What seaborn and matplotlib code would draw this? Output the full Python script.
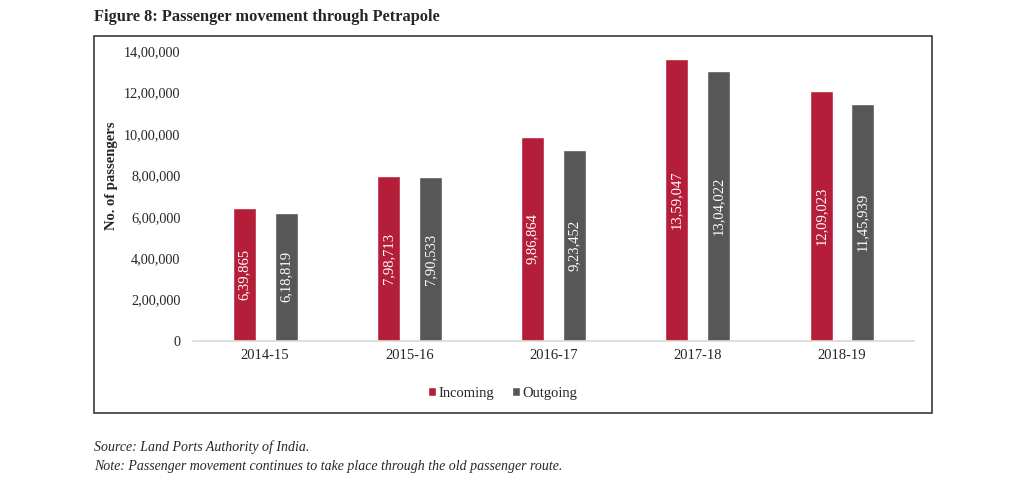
import pandas as pd
import seaborn as sns
import matplotlib.pyplot as plt
from matplotlib.patches import Rectangle

# data
years = ["2014-15", "2015-16", "2016-17", "2017-18", "2018-19"]
incoming = [639865, 798713, 986864, 1359047, 1209023]
outgoing = [618819, 790533, 923452, 1304022, 1145939]
y_ticks = [0, 200000, 400000, 600000, 800000, 1000000, 1200000, 1400000]


def indian_fmt(n):
    s = str(int(n))
    if len(s) <= 3:
        return s
    head, tail = s[:-3], s[-3:]
    parts = []
    while len(head) > 2:
        parts.insert(0, head[-2:])
        head = head[:-2]
    if head:
        parts.insert(0, head)
    return ",".join(parts + [tail])


df = pd.DataFrame({
    "Year": years * 2,
    "Passengers": incoming + outgoing,
    "Direction": ["Incoming"] * len(years) + ["Outgoing"] * len(years),
})

sns.set_style("white")
plt.rcParams["font.family"] = ["Liberation Serif", "DejaVu Serif"]

fig = plt.figure(figsize=(10.24, 4.87), dpi=100)
ax = fig.add_axes([0.1885, 0.2998, 0.7041, 0.5955])

palette = {"Incoming": "#B51E38", "Outgoing": "#575759"}
sns.barplot(
    data=df, x="Year", y="Passengers", hue="Direction",
    palette=palette, width=0.58, gap=0.45, ax=ax,
    saturation=1, legend=True,
)

# value labels inside bars
for cont in ax.containers:
    for bar in cont:
        h = bar.get_height()
        ax.text(
            bar.get_x() + bar.get_width() / 2, h / 2, indian_fmt(h),
            rotation=90, ha="center", va="center",
            color="white", fontsize=10.5,
        )

ax.set_ylim(0, 1400000)
ax.set_yticks(y_ticks)
ax.set_yticklabels([indian_fmt(v) for v in y_ticks], fontsize=10.3)
ax.tick_params(axis="x", labelsize=10.5, length=0, pad=6)
ax.tick_params(axis="y", length=0, pad=9)
ax.set_xlabel("")
ax.set_ylabel("No. of passengers", fontsize=10.5, fontweight="bold")
ax.yaxis.set_label_coords(-0.104, 0.57)
ax.set_xlim(-0.5, 4.5)
for side in ["top", "right", "left"]:
    ax.spines[side].set_visible(False)
ax.spines["bottom"].set_color("#D9D9D9")
ax.spines["bottom"].set_linewidth(1.2)

handles, labels = ax.get_legend_handles_labels()
ax.get_legend().remove()
fig.legend(
    handles, labels, loc="center", bbox_to_anchor=(0.491, 0.193),
    ncol=2, frameon=False, fontsize=10.5, handlelength=0.55,
    handleheight=0.55, handletextpad=0.2, columnspacing=1.2,
)

# outer frame
fig.patches.append(Rectangle(
    (0.0918, 0.152), 0.8184, 0.774, transform=fig.transFigure,
    fill=False, edgecolor="#3a3a3a", linewidth=1.2,
))

fig.text(0.0918, 0.965, "Figure 8: Passenger movement through Petrapole",
         fontsize=11.8, fontweight="bold", va="center", ha="left")
fig.text(0.0918, 0.082, "Source: Land Ports Authority of India.",
         fontsize=10, style="italic", va="center", ha="left")
fig.text(0.0918, 0.043,
         "Note: Passenger movement continues to take place through the old passenger route.",
         fontsize=10, style="italic", va="center", ha="left")

fig.savefig("out.png", dpi=100)
